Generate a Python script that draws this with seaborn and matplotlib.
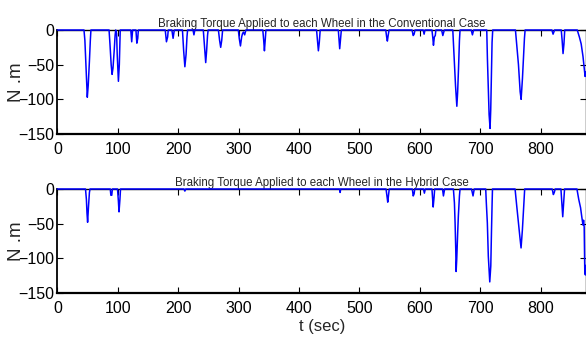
import matplotlib
matplotlib.use("Agg")
import matplotlib.pyplot as plt
import seaborn as sns
import pandas as pd

# Conventional case: time (s) and braking torque (N.m) breakpoints
time_conv = [0, 44, 45.5, 47, 48.5, 49.5, 51, 53, 54.5, 55.5,
             85.5, 87, 89, 90.5, 92, 94, 95.5, 96.5, 98, 99, 101, 102.5, 104,
             121.5, 123, 124.5, 130, 131.5, 133, 134,
             178.5, 180.5, 182.5, 183.5,
             189.5, 191.5, 193.5,
             207, 209, 211, 213, 214.5, 215.5,
             224.5, 226, 227.5,
             241.5, 243, 244.5, 245.5, 247, 248.5, 249.5,
             266.5, 268.5, 270.3, 272, 273.5,
             299.5, 301, 303, 305, 306.5, 308, 310, 312,
             340, 341.5, 342.7, 344, 345.2,
             429, 430.5, 432, 433.5, 435,
             465, 466.3, 467.3, 468.8, 470,
             543.5, 545, 546.2, 547.5, 549,
             587, 589, 590.5, 592,
             605.5, 607, 608.5,
             620, 621.5, 622.5, 624, 625.5, 626.5,
             636, 638, 640.5,
             654.5, 656.5, 659, 660.5, 661.2, 662.5, 664, 665.5, 666.5,
             685, 687, 689,
             710.7, 711.8, 713.5, 714.6, 716.2, 717.3, 718.4, 719.5, 720.6,
             758.2, 760.4, 763.2, 766, 767.6, 769.8, 771.5, 773.1, 774.2,
             818.5, 820.5, 823,
             834, 835.5, 837, 838.5, 839.8,
             860.5, 864, 867, 870, 872.5, 873.5, 875]
torque_conv = [0, 0, -15, -45, -75, -97, -80, -45, -15, 0,
               0, -20, -50, -64, -55, -30, -8, 0, -5, -35, -74, -50, 0,
               0, -17, 0, 0, -19, -12, 0,
               0, -17, -10, 0,
               0, -12, 0,
               0, -30, -53, -35, -10, 0,
               0, -7, 0,
               0, -18, -38, -47, -30, -8, 0,
               0, -15, -25, -15, 0,
               0, -12, -23, -10, -5, -3, -7, 0,
               0, -15, -30, -15, 0,
               0, -15, -30, -18, 0,
               0, -15, -27, -12, 0,
               0, -10, -16, -8, 0,
               0, -8, -6, 0,
               0, -6, 0,
               0, -12, -22, -10, -8, 0,
               0, -8, 0,
               0, -35, -80, -100, -110, -90, -55, -15, 0,
               0, -7, 0,
               0, -41, -89, -122, -142, -115, -65, -18, 0,
               0, -22, -50, -89, -100, -70, -41, -12, 0,
               0, -6, 0,
               0, -15, -34, -20, 0,
               0, -10, -20, -38, -58, -67, -60]

# Hybrid case
time_hyb = [0, 46.5, 48, 49, 50, 51.5, 53, 54,
            87.5, 88.5, 90, 91,
            99.5, 101, 102, 103.5, 104.5,
            209.5, 211, 212.5,
            467, 468, 469,
            544, 545.5, 546.8, 548, 549.3,
            587.5, 589, 590.5, 591.5,
            606, 607.5, 609,
            620, 621, 622, 623.5, 624.5,
            637.5, 639, 641,
            655.5, 657.2, 658.3, 659.4, 660, 661, 662.6, 663.7, 665.5, 666.5,
            685.5, 688, 690,
            709, 710, 711.7, 713.3, 715.7, 717.4, 718.5, 719.6, 720.2,
            757.6, 760.4, 763.2, 765.4, 767.5, 769.7, 771.9, 773.5,
            819, 821, 822.5, 824,
            833.5, 835, 836.5, 838, 839.5,
            860, 863, 866, 868, 870, 871, 872, 873, 874, 875]
torque_hyb = [0, 0, -15, -35, -48, -25, -5, 0,
              0, -9, -9, 0,
              0, -18, -33, -15, 0,
              0, -3, 0,
              0, -5, 0,
              0, -10, -19, -10, 0,
              0, -10, -7, 0,
              0, -6, 0,
              0, -13, -26, -12, 0,
              0, -10, 0,
              0, -20, -49, -87, -119, -102, -63, -39, -10, 0,
              0, -10, 0,
              0, -20, -49, -97, -134, -111, -63, -20, 0,
              0, -25, -49, -68, -85, -59, -25, 0,
              0, -8, -5, 0,
              0, -20, -40, -20, 0,
              0, -15, -27, -40, -52, -45, -55, -120, -124, -110]

titles = ["Braking Torque Applied to each Wheel in the Conventional Case",
          "Braking Torque Applied to each Wheel in the Hybrid Case"]
x_ticks = [0, 100, 200, 300, 400, 500, 600, 700, 800]
y_ticks = [-150, -100, -50, 0]

sns.set_style("ticks")
plt.rcParams["font.family"] = ["Liberation Sans", "DejaVu Sans"]

fig = plt.figure(figsize=(5.86, 3.37), dpi=100)
W, H = 586.0, 337.0
left = 57.4 / W
width = 1.0 - left
ax_top = fig.add_axes([left, (H - 134) / H, width, 104 / H])
ax_bot = fig.add_axes([left, (H - 293) / H, width, 104 / H])

series = [(time_conv, torque_conv), (time_hyb, torque_hyb)]
for ax, (t, tq), title in zip([ax_top, ax_bot], series, titles):
    df = pd.DataFrame({"t": t, "torque": tq})
    sns.lineplot(data=df, x="t", y="torque", ax=ax, color="#0000ff",
                 linewidth=1.1, sort=False, estimator=None, clip_on=False,
                 zorder=5)
    ax.set_xlim(0, 875)
    ax.set_ylim(-150, 0)
    ax.set_xticks(x_ticks)
    ax.set_yticks(y_ticks)
    ax.tick_params(direction="in", length=4, width=0.8, labelsize=11.5,
                   top=True, right=True, colors="black")
    ax.tick_params(axis="x", pad=6)
    ax.tick_params(axis="y", pad=2)
    for s in ax.spines.values():
        s.set_visible(True)
        s.set_color("black")
        s.set_linewidth(1.0)
    ax.spines["bottom"].set_linewidth(1.6)
    ax.spines["left"].set_linewidth(1.3)
    ax.set_title(title, fontsize=8.3, pad=2)
    ax.set_ylabel("N .m", fontsize=13.5)
    ax.yaxis.set_label_coords(-0.062, 0.5)
    ax.set_xlabel("")
    ax.grid(False)

ax_bot.set_xlabel("t (sec)", fontsize=12, labelpad=2)

fig.savefig("out.png", dpi=100)
